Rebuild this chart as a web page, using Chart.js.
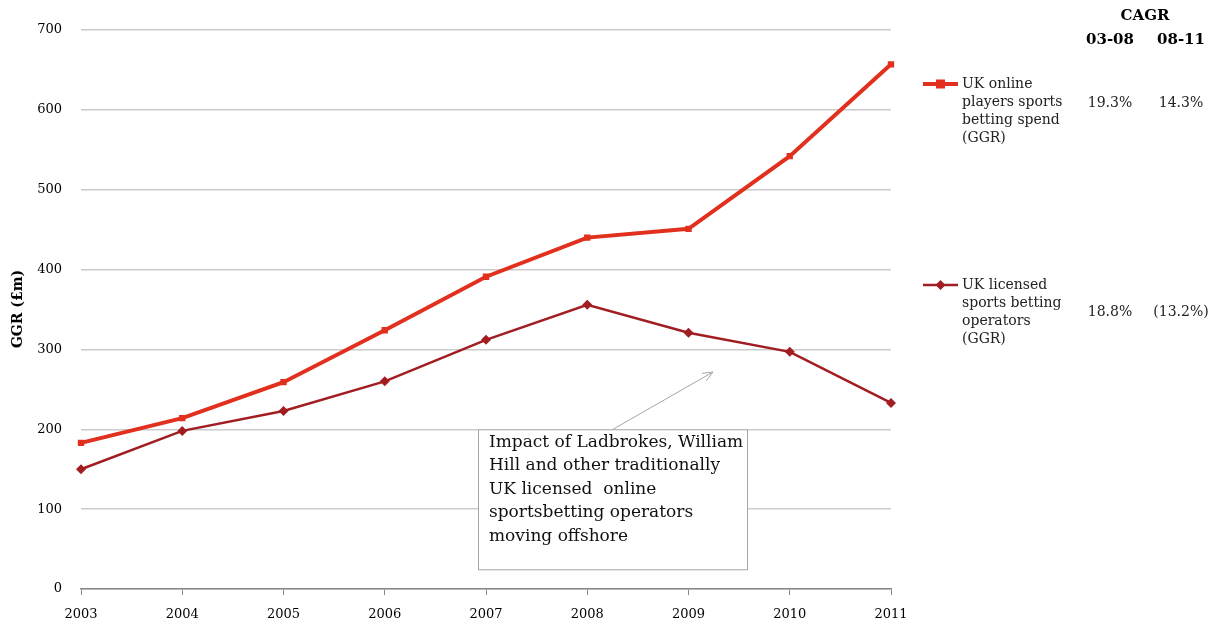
<!DOCTYPE html>
<html><head><meta charset="utf-8">
<script src="https://cdn.jsdelivr.net/npm/chart.js@4"></script>
<style>html,body{margin:0;padding:0;background:#fff}#wrap{width:1220px;height:620px;position:relative}</style>
</head><body><div id="wrap"><canvas id="c" width="1220" height="620"></canvas></div>
<script>
const years = ['2003','2004','2005','2006','2007','2008','2009','2010','2011'];
const onlineSpend = [183, 214, 259, 324, 391, 440, 451, 542, 657];
const licensedOps = [150, 198, 223, 260, 312, 356, 321, 297, 233];
const yTicks = [0,100,200,300,400,500,600,700];
const seriesLabels = [
  ['UK online','players sports','betting spend','(GGR)'],
  ['UK licensed','sports betting','operators','(GGR)']
];
const cagrHeader = ['CAGR','03-08','08-11'];
const cagr0308 = ['19.3%','18.8%'];
const cagr0811 = ['14.3%','(13.2%)'];
const noteLines = ['Impact of Ladbrokes, William','Hill and other traditionally','UK licensed  online','sportsbetting operators','moving offshore'];

const SERIF = '"DejaVu Serif", "Liberation Serif", serif';
const C1 = '#E2301F', C2 = '#A11D21';

const overlay = {
  id:'overlay',
  afterDraw(chart){
    const ctx = chart.ctx;
    const x = chart.scales.x, y = chart.scales.y;
    ctx.save();
    ctx.fillStyle = '#000';
    ctx.font = 'bold 14px ' + SERIF;
    ctx.translate(18, 309); ctx.rotate(-Math.PI/2);
    ctx.textAlign='center'; ctx.textBaseline='middle';
    ctx.fillText('GGR (£m)', 0, 0);
    ctx.restore();

    ctx.save();
    ctx.strokeStyle = '#a6a6a6'; ctx.lineWidth = 1;
    const ax0 = 613, ay0 = y.getPixelForValue(200), ax1 = 713, ay1 = 372;
    ctx.beginPath(); ctx.moveTo(ax0, ay0); ctx.lineTo(ax1, ay1); ctx.stroke();
    const ang = Math.atan2(ay1-ay0, ax1-ax0);
    ctx.beginPath();
    ctx.moveTo(ax1 - 11*Math.cos(ang-0.4), ay1 - 11*Math.sin(ang-0.4));
    ctx.lineTo(ax1, ay1);
    ctx.lineTo(ax1 - 11*Math.cos(ang+0.4), ay1 - 11*Math.sin(ang+0.4));
    ctx.stroke();
    const bx = 478, by = y.getPixelForValue(200), bw = 269, bh = 140;
    ctx.fillStyle = '#fff'; ctx.fillRect(bx, by, bw, bh);
    ctx.strokeStyle = '#a6a6a6'; ctx.strokeRect(bx+0.5, by+0.5, bw, bh);
    ctx.fillStyle = '#111'; ctx.font = '17px ' + SERIF;
    ctx.textAlign='left'; ctx.textBaseline='middle';
    noteLines.forEach((t,i)=>ctx.fillText(t, 489, by+13+i*23.5));

    const legY = [84, 285];
    const cols = [C1, C2];
    ctx.font = '14px ' + SERIF;
    legY.forEach((ly,i)=>{
      ctx.strokeStyle = cols[i]; ctx.lineWidth = i===0?4:2.5;
      ctx.beginPath(); ctx.moveTo(923, ly); ctx.lineTo(958, ly); ctx.stroke();
      ctx.fillStyle = cols[i];
      if(i===0){ ctx.fillRect(936, ly-4.5, 9, 9); }
      else { ctx.beginPath(); ctx.moveTo(940.5, ly-5); ctx.lineTo(945.5, ly); ctx.lineTo(940.5, ly+5); ctx.lineTo(935.5, ly); ctx.closePath(); ctx.fill(); }
      ctx.fillStyle = '#222'; ctx.textAlign='left';
      seriesLabels[i].forEach((t,j)=>ctx.fillText(t, 962, ly+j*18));
      ctx.textAlign='center';
      ctx.fillText(cagr0308[i], 1110, ly+(i===0?19:27));
      ctx.fillText(cagr0811[i], 1181, ly+(i===0?19:27));
    });
    ctx.fillStyle = '#000'; ctx.font = 'bold 15px ' + SERIF; ctx.textAlign='center';
    ctx.fillText(cagrHeader[0], 1145, 16);
    ctx.fillText(cagrHeader[1], 1110, 40);
    ctx.fillText(cagrHeader[2], 1181, 40);
    ctx.restore();
  }
};

new Chart(document.getElementById('c'), {
  type:'line',
  data:{ labels: years, datasets:[
    { label:'UK online players sports betting spend (GGR)', data: onlineSpend, borderColor:C1, backgroundColor:C1,
      borderWidth:4, pointStyle:'rect', pointRadius:4.5, pointBorderWidth:0, tension:0 },
    { label:'UK licensed sports betting operators (GGR)', data: licensedOps, borderColor:C2, backgroundColor:C2,
      borderWidth:2.5, pointStyle:'rectRot', pointRadius:5, pointBorderWidth:0, tension:0 }
  ]},
  options:{
    responsive:false, animation:false,
    layout:{ padding:{ left:0, right:329, top:30, bottom:0 } },
    plugins:{ legend:{display:false}, tooltip:{enabled:false} },
    scales:{
      x:{ offset:false,
        grid:{ display:true, drawOnChartArea:false, drawTicks:true, tickLength:6, color:'#888' },
        border:{ display:true, color:'#888', width:1.5 },
        ticks:{ color:'#000', font:{family:SERIF, size:13}, maxRotation:0, padding:12 },
        afterFit(s){ s.height = 31; }
      },
      y:{ min:0, max:700,
        afterBuildTicks(s){ s.ticks = yTicks.map(v=>({value:v})); },
        grid:{ color:'#cccccc', lineWidth:1.5, drawTicks:false },
        border:{ display:false },
        ticks:{ color:'#000', font:{family:SERIF, size:13}, padding:19 },
        afterFit(s){ s.width = 81; }
      }
    }
  },
  plugins:[overlay]
});
</script></body></html>
